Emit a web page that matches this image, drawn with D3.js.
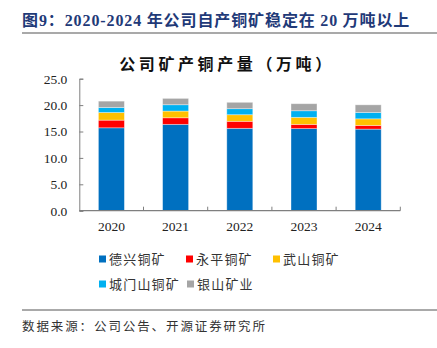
<!DOCTYPE html>
<html>
<head>
<meta charset="utf-8">
<script src="https://cdn.jsdelivr.net/npm/d3@7"></script>
<style>
  html, body { margin: 0; padding: 0; background: #fff; }
  svg { display: block; }
</style>
</head>
<body>
<svg id="chart" width="437" height="348"></svg>
<script>
// Copper output by mine, 10k tonnes
const years = ["2020", "2021", "2022", "2023", "2024"];
const seriesNames = ["德兴铜矿", "永平铜矿", "武山铜矿", "城门山铜矿", "银山矿业"];
const dexing     = [15.7, 16.35, 15.6, 15.55, 15.45];
const yongping   = [1.45, 1.25, 1.33, 0.8, 0.7];
const wushan     = [1.45, 1.27, 1.25, 1.33, 1.25];
const chengmen   = [0.95, 1.2, 1.14, 1.25, 1.2];
const yinshan    = [1.2, 1.2, 1.21, 1.33, 1.45];
const yTicks = [0, 5, 10, 15, 20, 25];
const colors = ["#0070C0", "#FF0000", "#FFC000", "#00B0F0", "#A5A5A5"];

const seriesValues = [dexing, yongping, wushan, chengmen, yinshan];
const rows = years.map((yr, i) => {
  const r = { year: yr };
  seriesNames.forEach((n, k) => { r[n] = seriesValues[k][i]; });
  return r;
});
const stacked = d3.stack().keys(seriesNames)(rows);

const svg = d3.select("#chart");
const cjk = "'Noto Sans CJK SC', sans-serif";
const serif = "'Liberation Serif', 'Times New Roman', serif";

// Page heading
const head = svg.append("text")
  .attr("x", 22).attr("y", 26)
  .attr("fill", "#1F3A78")
  .style("font-weight", "bold")
  .style("font-size", "16px")
  .style("letter-spacing", "0.9px");
[["图", cjk], ["9", serif], ["：", cjk], ["2020-2024", serif], [" 年公司自产铜矿稳定在 ", cjk], ["20", serif], [" 万吨以上", cjk]]
  .forEach(([t, f]) => head.append("tspan").style("font-family", f).text(t));
svg.append("line").attr("x1", 22).attr("x2", 437).attr("y1", 33).attr("y2", 33)
  .attr("stroke", "#8c8c8c").attr("stroke-width", 1.5);

// Chart title
svg.append("text")
  .attr("x", 227).attr("y", 70)
  .attr("text-anchor", "middle")
  .style("font-family", cjk)
  .style("font-size", "16px")
  .style("font-weight", "600")
  .style("letter-spacing", "3.6px")
  .attr("fill", "#111")
  .text("公司矿产铜产量（万吨）");

const plotLeft = 79.3, plotRight = 400.3, plotTop = 78.7, plotBottom = 210.7;

const x = d3.scaleBand().domain(years).range([plotLeft, plotRight])
  .paddingInner(0.595).paddingOuter(0.2975);
const y = d3.scaleLinear().domain([0, 25]).range([plotBottom, plotTop]);

// Bars
svg.append("g").selectAll("g").data(stacked).join("g")
  .attr("fill", (d, i) => colors[i])
  .selectAll("rect").data(d => d).join("rect")
  .attr("x", d => x(d.data.year))
  .attr("width", x.bandwidth())
  .attr("y", d => y(d[1]))
  .attr("height", d => y(d[0]) - y(d[1]))
  .attr("stroke", "rgba(255,255,255,0.45)")
  .attr("stroke-width", 0.8);

// Y axis
const yAxis = svg.append("g")
  .attr("transform", `translate(${plotLeft},0)`)
  .call(d3.axisLeft(y).tickValues(yTicks).tickSize(-4).tickPadding(12)
    .tickFormat(d3.format(".1f")));
yAxis.selectAll("path, line").attr("stroke", "#7f7f7f");
yAxis.selectAll("text")
  .style("font-family", serif).style("font-size", "13.5px").attr("fill", "#222");

// X axis
const xAxis = svg.append("g")
  .attr("transform", `translate(0,${plotBottom})`)
  .call(d3.axisBottom(x).tickSize(0).tickPadding(11));
xAxis.select(".domain").attr("stroke", "#7f7f7f").attr("stroke-width", 1.3)
  .attr("d", `M${plotLeft},0H${plotRight}`);
xAxis.selectAll("text")
  .style("font-family", serif).style("font-size", "13.5px").attr("fill", "#222");
const step = x.step();
const bounds = years.map((yr, i) => plotLeft + step * (i + 1));
xAxis.selectAll(".bnd").data(bounds).join("line")
  .attr("class", "bnd")
  .attr("x1", d => d).attr("x2", d => d)
  .attr("y1", 0).attr("y2", -4)
  .attr("stroke", "#7f7f7f");

// Legend
const legendPos = [[99, 259], [186, 259], [273, 259], [99, 284], [187, 284]];
const lg = svg.append("g").selectAll("g").data(seriesNames).join("g")
  .attr("transform", (d, i) => `translate(${legendPos[i][0]},${legendPos[i][1]})`);
lg.append("rect").attr("x", 0).attr("y", -3.5).attr("width", 7).attr("height", 7)
  .attr("fill", (d, i) => colors[i]);
lg.append("text").attr("x", 10).attr("y", 0).attr("dy", "0.36em")
  .style("font-family", cjk).style("font-size", "13px")
  .style("letter-spacing", "1.2px")
  .attr("fill", "#333")
  .text(d => d);

// Source note
svg.append("line").attr("x1", 22).attr("x2", 437).attr("y1", 310).attr("y2", 310)
  .attr("stroke", "#555").attr("stroke-width", 1);
svg.append("text").attr("x", 22).attr("y", 326).attr("dy", "0.36em")
  .style("font-family", cjk).style("font-size", "12.5px")
  .style("letter-spacing", "1.9px")
  .attr("fill", "#333")
  .text("数据来源：公司公告、开源证券研究所");
</script>
</body>
</html>
